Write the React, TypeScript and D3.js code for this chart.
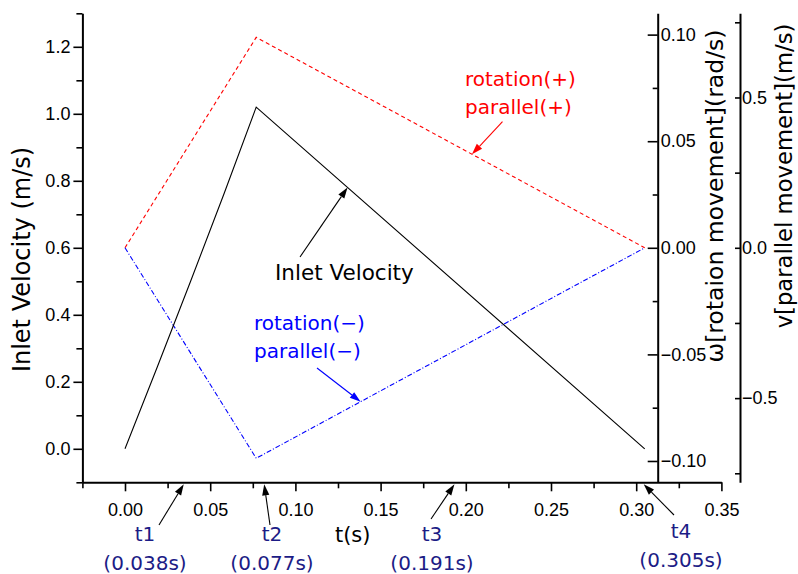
import React, { useEffect, useRef } from 'react';
import * as d3 from 'd3';

// inlet velocity (left axis, m/s)
const inletTimes = [0, 0.019, 0.0385, 0.058, 0.077, 0.305];
const inletVelocity = [0, 0.245, 0.5, 0.76, 1.02, 0];

// rotation / parallel movement (v axis, m/s)
const motionTimes = [0, 0.077, 0.305];
const motionPlus = [0, 0.7, 0];
const motionMinus = [0, -0.7, 0];

// ticks
const xMajor = [0, 0.05, 0.1, 0.15, 0.2, 0.25, 0.3, 0.35];
const xMinor = [-0.025, 0.025, 0.075, 0.125, 0.175, 0.225, 0.275, 0.325];
const yMajor = [0, 0.2, 0.4, 0.6, 0.8, 1.0, 1.2];
const yMinor = [-0.1, 0.1, 0.3, 0.5, 0.7, 0.9, 1.1, 1.3];
const wMajor = [-0.1, -0.05, 0, 0.05, 0.1];
const wMinor = [-0.075, -0.025, 0.025, 0.075];
const vMajor = [-0.5, 0, 0.5];
const vMinor = [-0.75, -0.25, 0.25, 0.75];

// phase marks under the time axis
const phaseTimes = [0.038, 0.077, 0.191, 0.305];
const phaseNames = ['t1', 't2', 't3', 't4'];
const phaseLabels = ['(0.038s)', '(0.077s)', '(0.191s)', '(0.305s)'];

const W = 798;
const H = 574;
const NAVY = '#1c1c86';
const TICK_FONT = 'Liberation Sans, Arial, sans-serif';
const LABEL_FONT = 'DejaVu Sans, sans-serif';

export default function App() {
  const ref = useRef<SVGSVGElement>(null);

  useEffect(() => {
    const svg = d3.select(ref.current);
    svg.selectAll('*').remove();

    const top = 13.3;
    const bottom = 482.3;
    const x = d3.scaleLinear().domain([-0.025, 0.35]).range([82.4, 721.4]);
    const yL = d3.scaleLinear().domain([-0.1, 1.3]).range([bottom, top]);
    const yW = d3.scaleLinear().domain([-0.11, 0.11]).range([bottom, top]);
    const yV = d3.scaleLinear().domain([-0.78, 0.78]).range([bottom, top]);
    const wAxisX = 657.7;
    const vAxisX = 740;

    const styleAxis = (g: any) => {
      g.attr('font-family', TICK_FONT).attr('font-size', 18);
      g.select('.domain').attr('stroke', '#000').attr('stroke-width', 2);
      g.selectAll('.tick line').attr('stroke', '#000').attr('stroke-width', 1.6);
      g.selectAll('.tick text').attr('fill', '#000');
    };
    const noLabel = () => '';

    // minor ticks first (no domain)
    const minor = (axis: any, tr: string) => {
      const g = svg.append('g').attr('transform', tr).call(axis);
      styleAxis(g);
      g.select('.domain').remove();
    };
    minor(d3.axisLeft(yL).tickValues(yMinor).tickSize(6).tickFormat(noLabel), `translate(${x.range()[0]},0)`);
    minor(d3.axisBottom(x).tickValues(xMinor).tickSize(6).tickFormat(noLabel), `translate(0,${bottom})`);
    minor(d3.axisRight(yW).tickValues(wMinor).tickSize(-5).tickFormat(noLabel), `translate(${wAxisX},0)`);
    minor(d3.axisRight(yV).tickValues(vMinor).tickSize(-5).tickFormat(noLabel), `translate(${vAxisX},0)`);

    // major axes
    const gl = svg.append('g').attr('transform', `translate(${x.range()[0]},0)`)
      .call(d3.axisLeft(yL).tickValues(yMajor).tickSize(9).tickSizeOuter(0).tickPadding(3).tickFormat(d3.format('.1f')));
    styleAxis(gl);

    const gb = svg.append('g').attr('transform', `translate(0,${bottom})`)
      .call(d3.axisBottom(x).tickValues(xMajor).tickSize(9).tickSizeOuter(0).tickPadding(12).tickFormat(d3.format('.2f')));
    styleAxis(gb);

    const gw = svg.append('g').attr('transform', `translate(${wAxisX},0)`)
      .call(d3.axisRight(yW).tickValues(wMajor).tickSize(-10).tickSizeOuter(0).tickPadding(3).tickFormat(d3.format('.2f')));
    styleAxis(gw);

    const gv = svg.append('g').attr('transform', `translate(${vAxisX},0)`)
      .call(d3.axisRight(yV).tickValues(vMajor).tickSize(-5).tickSizeOuter(0).tickPadding(2).tickFormat(d3.format('.1f')));
    styleAxis(gv);

    // axis titles
    const title = (tx: number, ty: number, size: number, txt: string) => {
      svg.append('text')
        .attr('transform', `translate(${tx},${ty}) rotate(-90)`)
        .attr('text-anchor', 'middle')
        .attr('font-family', LABEL_FONT)
        .attr('font-size', size)
        .attr('fill', '#000')
        .text(txt);
    };
    title(30, 259.5, 24, 'Inlet Velocity (m/s)');
    title(723, 196, 23.5, 'ω[rotaion movement](rad/s)');
    title(792, 176, 22.7, 'v[parallel movement](m/s)');

    svg.append('text')
      .attr('x', 352.7).attr('y', 541.5)
      .attr('text-anchor', 'middle')
      .attr('font-family', LABEL_FONT).attr('font-size', 21)
      .attr('fill', '#000')
      .text('t(s)');

    // series
    const lineL = d3.line<number>().x((d, i) => x(inletTimes[i])).y(d => yL(d));
    const lineV = d3.line<number>().x((d, i) => x(motionTimes[i])).y(d => yV(d));

    svg.append('path').attr('d', lineV(motionPlus))
      .attr('fill', 'none').attr('stroke', '#ff0000').attr('stroke-width', 1.1)
      .attr('stroke-dasharray', '4,3');
    svg.append('path').attr('d', lineV(motionMinus))
      .attr('fill', 'none').attr('stroke', '#0000ff').attr('stroke-width', 1.1)
      .attr('stroke-dasharray', '5,2,1,2');
    svg.append('path').attr('d', lineL(inletVelocity))
      .attr('fill', 'none').attr('stroke', '#000').attr('stroke-width', 1.1);

    // arrows
    const arrow = (x1: number, y1: number, x2: number, y2: number, color: string) => {
      const a = Math.atan2(y2 - y1, x2 - x1);
      const len = 11;
      const hw = 3.6;
      const bx = x2 - len * Math.cos(a);
      const by = y2 - len * Math.sin(a);
      svg.append('line')
        .attr('x1', x1).attr('y1', y1).attr('x2', bx).attr('y2', by)
        .attr('stroke', color).attr('stroke-width', 1.1);
      const pts = [
        [x2, y2],
        [bx + hw * Math.sin(a), by - hw * Math.cos(a)],
        [bx - hw * Math.sin(a), by + hw * Math.cos(a)],
      ];
      svg.append('polygon').attr('points', pts.map(p => p.join(',')).join(' ')).attr('fill', color);
    };

    const label = (tx: number, ty: number, txt: string, color: string, size = 20, anchor = 'start') => {
      svg.append('text')
        .attr('x', tx).attr('y', ty)
        .attr('text-anchor', anchor)
        .attr('font-family', LABEL_FONT).attr('font-size', size)
        .attr('fill', color)
        .text(txt);
    };

    // series annotations
    label(465, 86, 'rotation(+)', '#ff0000');
    label(465, 114, 'parallel(+)', '#ff0000');
    arrow(502.5, 121.7, x(0.2036), yV(0.311), '#ff0000');

    label(275, 280, 'Inlet Velocity', '#000', 21.5);
    arrow(300, 257, x(0.1306), yL(0.78), '#000');

    label(254, 330, 'rotation(−)', '#0000ff');
    label(254, 358, 'parallel(−)', '#0000ff');
    arrow(317, 368, x(0.1383), yV(-0.512), '#0000ff');

    // phase marks
    const phaseLabelX = [145, 272, 432, 681];
    const phaseTipDx = [-6, 8, 4, -1];
    const phaseTail = [[159, 525], [270, 525], [431, 519], [674, 515]];
    const phaseNameY = [541, 541, 541, 538];
    const phaseTimeY = [570, 570, 570, 567];
    phaseTimes.forEach((t, i) => {
      arrow(phaseTail[i][0], phaseTail[i][1], x(t) + phaseTipDx[i], bottom + 2, '#000');
      label(phaseLabelX[i], phaseNameY[i], phaseNames[i], NAVY, 20, 'middle');
      label(phaseLabelX[i], phaseTimeY[i], phaseLabels[i], NAVY, 20, 'middle');
    });
  }, []);

  return (
    <svg
      ref={ref}
      width={W}
      height={H}
      style={{ position: 'absolute', left: 0, top: 0, background: '#fff' }}
    />
  );
}
